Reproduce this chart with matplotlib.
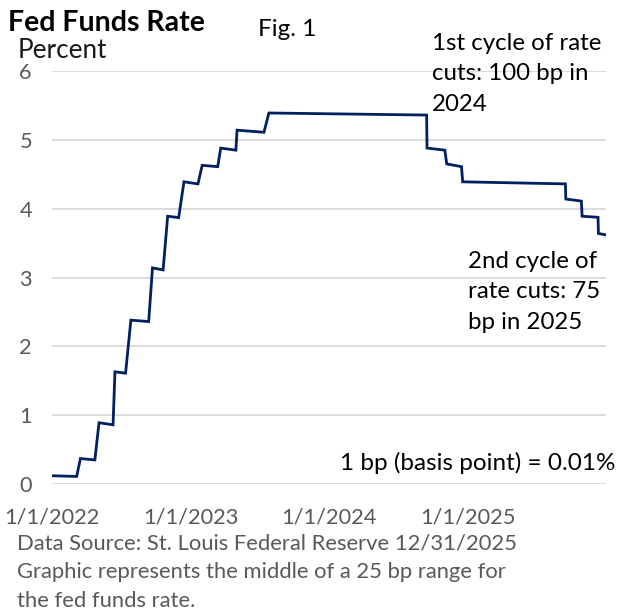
import numpy as np
import pandas as pd
import matplotlib
matplotlib.use("Agg")
import matplotlib.pyplot as plt
import matplotlib.dates as mdates

plt.rcParams['font.family'] = ['Lato', 'DejaVu Sans']

# vertices of the rate line
dates = ["2022-01-01", "2022-03-07", "2022-03-17", "2022-04-24", "2022-05-05",
         "2022-06-11", "2022-06-16", "2022-07-14", "2022-07-28", "2022-09-13",
         "2022-09-23", "2022-10-21", "2022-11-02", "2022-12-01", "2022-12-15",
         "2023-01-21", "2023-02-01", "2023-03-14", "2023-03-22", "2023-05-01",
         "2023-05-04", "2023-07-14", "2023-07-27", "2024-09-15", "2024-09-16",
         "2024-11-02", "2024-11-07", "2024-12-16", "2024-12-19", "2025-09-16",
         "2025-09-17", "2025-10-28", "2025-10-30", "2025-12-11", "2025-12-12",
         "2025-12-31"]
rate = [0.12, 0.11, 0.37, 0.35, 0.89,
        0.86, 1.63, 1.61, 2.38, 2.36,
        3.14, 3.11, 3.89, 3.87, 4.39,
        4.36, 4.63, 4.61, 4.88, 4.85,
        5.14, 5.11, 5.39, 5.36, 4.88,
        4.85, 4.65, 4.61, 4.39, 4.36,
        4.14, 4.11, 3.89, 3.875, 3.64,
        3.62]

xtick_dates = ["2022-01-01", "2023-01-01", "2024-01-01", "2025-01-01"]
xtick_labels = ["1/1/2022", "1/1/2023", "1/1/2024", "1/1/2025"]
yticks = [0, 1, 2, 3, 4, 5, 6]

W, H = 619, 614
fig = plt.figure(figsize=(W / 100, H / 100), dpi=100)
ax = fig.add_axes([52 / W, 1 - 484 / H, (606 - 52) / W, (484 - 71) / H])

x = pd.to_datetime(dates)
ax.plot(x, rate, color="#002060", lw=2.0, solid_joinstyle="miter", zorder=3)

ax.set_xlim(pd.Timestamp("2022-01-01"), pd.Timestamp("2026-01-01"))
ax.set_ylim(0, 6)
ax.set_yticks(yticks)
ax.set_xticks(pd.to_datetime(xtick_dates))
ax.set_xticklabels(xtick_labels)
ax.yaxis.grid(True, color="#D9D9D9", lw=1.3)
ax.set_axisbelow(True)
for s in ax.spines.values():
    s.set_visible(False)
ax.tick_params(length=0, labelsize=15.7, colors="#595959")
ax.tick_params(axis="y", pad=19)
ax.tick_params(axis="x", pad=17)
for lbl in ax.get_yticklabels():
    lbl.set_horizontalalignment("center")


def px(xp, yp):
    return xp / W, 1 - yp / H


fig.text(*px(8, 23), "Fed Funds Rate", fontsize=20.5, fontweight="bold", va="center", color="black")
fig.text(*px(258, 29), "Fig. 1", fontsize=17.5, va="center", color="black")
fig.text(*px(18, 50), "Percent", fontsize=18.8, va="center", color="#1a1a1a")

fig.text(*px(432, 33), "1st cycle of rate\ncuts: 100 bp in\n2024", fontsize=17.3,
         va="top", ha="left", linespacing=1.55, color="black")
fig.text(*px(468, 251), "2nd cycle of\nrate cuts: 75\nbp in 2025", fontsize=17.3,
         va="top", ha="left", linespacing=1.55, color="black")
fig.text(*px(615, 463), "1 bp (basis point) = 0.01%", fontsize=17.5,
         va="center", ha="right", color="black")

fig.text(*px(17, 533), "Data Source: St. Louis Federal Reserve 12/31/2025\n"
         "Graphic represents the middle of a 25 bp range for\nthe fed funds rate.",
         fontsize=15.8, va="top", ha="left", linespacing=1.55, color="#595959")

fig.savefig("out.png", dpi=100)
